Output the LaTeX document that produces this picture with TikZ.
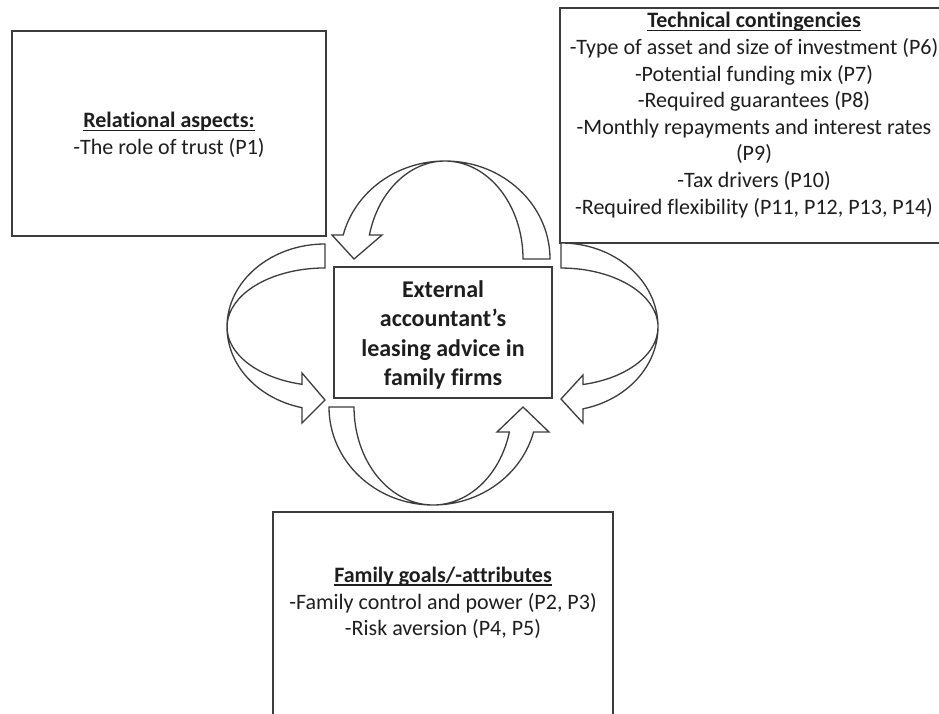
\documentclass[tikz,border=0pt]{standalone}
\usepackage{fontspec}
\setmainfont[Ligatures=NoCommon]{Carlito}
\definecolor{ink}{HTML}{1E1E1E}
\definecolor{linegray}{HTML}{3C3C3C}
% bold heading with an underline at a fixed depth below the baseline
\newcommand\ulhead[1]{\setbox0\hbox{\bfseries #1}\rlap{\rule[-3pt]{\wd0}{1.2pt}}\box0}
\begin{document}
\begin{tikzpicture}[x=1pt,y=-1pt,
  frame/.style={draw=linegray, line width=1.6pt, rectangle, inner sep=0pt},
  blockarrow/.style={draw=linegray, line width=1.3pt, fill=white, line join=miter},
  body/.style={align=center, font=\fontsize{22}{26.6}\selectfont, text=ink, inner sep=0pt},
  core/.style={align=center, font=\fontsize{24}{29.4}\selectfont\bfseries, text=ink, inner sep=0pt}]

\path[use as bounding box, clip] (0,0) rectangle (939,713);
\fill[white] (0,0) rectangle (939,713);

% boxes
\node[frame, minimum width=314pt, minimum height=205pt] (rel)  at (169,133.5) {};
\node[frame, minimum width=392pt, minimum height=235pt] (tech) at (756,125.5) {};
\node[frame, minimum width=218pt, minimum height=131pt] (core) at (443,332.5) {};
\node[frame, minimum width=340pt, minimum height=218pt] (fam)  at (443,621) {};

% texts
\node[body] (reltext) at (169,135) {\ulhead{Relational aspects:}\\-The role of trust (P1)};
\node[body] (techtext) at (754,115) {\ulhead{Technical contingencies}\\
  -Type of asset and size of investment (P6)\\
  -Potential funding mix (P7)\\
  -Required guarantees (P8)\\
  -Monthly repayments and interest rates\\
  (P9)\\
  -Tax drivers (P10)\\
  -Required flexibility (P11, P12, P13, P14)};
\node[core] (coretext) at (443,335) {External\\accountant’s\\leasing advice in\\family firms};
\node[body] (famtext) at (443,603) {\ulhead{Family goals/-attributes}\\
  -Family control and power (P2, P3)\\
  -Risk aversion (P4, P5)};

% curved block arrows feeding the central box
% top: from the technical side over the top down onto the core
\draw[blockarrow] (550,259)
  arc[start angle=0, end angle=-165.8, x radius=105, y radius=98]
  -- (332,235) -- (354,259) -- (382,235) -- (369.4,235)
  arc[start angle=-165.8, end angle=0, x radius=78, y radius=98]
  -- cycle;
% left: from the relational box round to the core
\draw[blockarrow] (325,244)
  arc[start angle=-90, end angle=-256.4, x radius=98, y radius=83]
  -- (302,423) -- (325,400) -- (302,373) -- (302,384.3)
  arc[start angle=-256.4, end angle=-90, x radius=98, y radius=59]
  -- cycle;
% right: from the technical box round to the core
\draw[blockarrow] (561,243)
  arc[start angle=-90, end angle=76.9, x radius=97, y radius=84]
  -- (583,423) -- (561,399) -- (583,375) -- (583,384.5)
  arc[start angle=76.9, end angle=-90, x radius=97, y radius=59]
  -- cycle;
% bottom: from the family box underneath up onto the core
\draw[blockarrow] (329,407)
  arc[start angle=180, end angle=14.8, x radius=104, y radius=98]
  -- (549,432) -- (523,407) -- (497,432) -- (509.4,432)
  arc[start angle=14.8, end angle=180, x radius=79, y radius=98]
  -- cycle;
\end{tikzpicture}
\end{document}
